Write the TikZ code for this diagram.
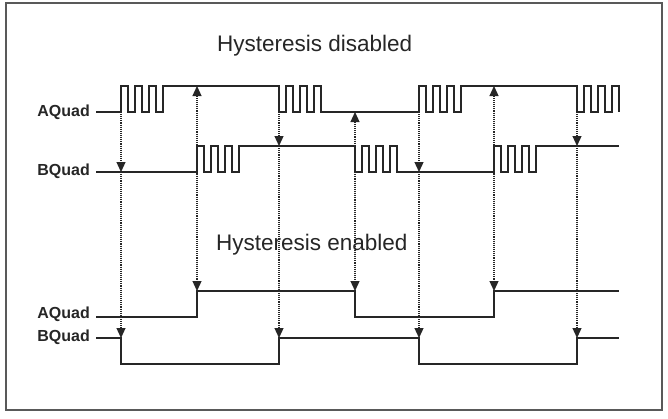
\documentclass[tikz,border=0pt]{standalone}
\usepackage{fontspec}
\setmainfont{Liberation Sans}
\usepackage{tikz}
\usetikzlibrary{arrows.meta}

\begin{document}
\begin{tikzpicture}[
    x=1pt, y=-1pt,
    sig/.style={line width=1.8pt, line join=miter, black!85},
    tap/.style={dash pattern=on 1.1pt off 1pt, line width=1.2pt, black!85,
                >={Triangle[width=9pt,length=10pt]}},
    lbl/.style={font=\fontsize{16}{16}\selectfont\bfseries, anchor=base east,
                inner sep=0pt, text=black!85},
    ttl/.style={font=\fontsize{22.5}{22.5}\selectfont, anchor=base west,
                inner sep=0pt, text=black!85},
  ]
  \useasboundingbox (0,0) rectangle (668,418);

  % Frame
  \draw[black!65, line width=1.3pt] (6,3) rectangle (662,410);

  % Titles
  \node[ttl] (tdis) at (217,51) {Hysteresis disabled};
  \node[ttl] (ten) at (216,250) {Hysteresis enabled};

  % Labels
  \node[lbl] (adis) at (90,116) {AQuad};
  \node[lbl] (bdis) at (90,175) {BQuad};
  \node[lbl] (aen) at (90,318) {AQuad};
  \node[lbl] (ben) at (90,341) {BQuad};

  % AQuad, hysteresis disabled
  \draw[sig] (96,112) -- (121,112)
    foreach \i in {1,2,3} { -- ++(0,-26) -- ++(7,0) -- ++(0,26) -- ++(7,0) }
    -- ++(0,-26) -- (279,86)
    foreach \i in {1,2,3} { -- ++(0,26) -- ++(7,0) -- ++(0,-26) -- ++(7,0) }
    -- ++(0,26) -- (419,112)
    foreach \i in {1,2,3} { -- ++(0,-26) -- ++(7,0) -- ++(0,26) -- ++(7,0) }
    -- ++(0,-26) -- (577,86)
    foreach \i in {1,2,3} { -- ++(0,26) -- ++(7,0) -- ++(0,-26) -- ++(7,0) }
    -- ++(0,26);

  % BQuad, hysteresis disabled
  \draw[sig] (96,172) -- (197,172)
    foreach \i in {1,2,3} { -- ++(0,-26) -- ++(7,0) -- ++(0,26) -- ++(7,0) }
    -- ++(0,-26) -- (355,146)
    foreach \i in {1,2,3} { -- ++(0,26) -- ++(7,0) -- ++(0,-26) -- ++(7,0) }
    -- ++(0,26) -- (494,172)
    foreach \i in {1,2,3} { -- ++(0,-26) -- ++(7,0) -- ++(0,26) -- ++(7,0) }
    -- ++(0,-26) -- (619,146);

  % AQuad and BQuad, hysteresis enabled
  \draw[sig] (96,317) -- (197,317) -- (197,291) -- (355,291) -- (355,317)
    -- (494,317) -- (494,291) -- (619,291);
  \draw[sig] (96,338) -- (121,338) -- (121,364) -- (279,364) -- (279,338)
    -- (419,338) -- (419,364) -- (577,364) -- (577,338) -- (619,338);

  % Tap points
  \coordinate (s1) at (121,114); \coordinate (m1) at (121,172); \coordinate (e1) at (121,338);
  \coordinate (s2) at (197,86);  \coordinate (e2) at (197,291);
  \coordinate (s3) at (279,114); \coordinate (m3) at (279,146); \coordinate (e3) at (279,338);
  \coordinate (s4) at (355,112); \coordinate (e4) at (355,291);
  \coordinate (s5) at (419,114); \coordinate (m5) at (419,172); \coordinate (e5) at (419,338);
  \coordinate (s6) at (494,86);  \coordinate (e6) at (494,291);
  \coordinate (s7) at (577,114); \coordinate (m7) at (577,146); \coordinate (e7) at (577,338);

  % Edge arrows
  \foreach \n in {1,3,5,7} {
    \draw[tap, ->] (s\n) -- (m\n);
    \draw[tap, ->] (m\n) -- (e\n);
  }
  \foreach \n in {2,4,6} {
    \draw[tap, <->] (s\n) -- (e\n);
  }

\end{tikzpicture}
\end{document}
